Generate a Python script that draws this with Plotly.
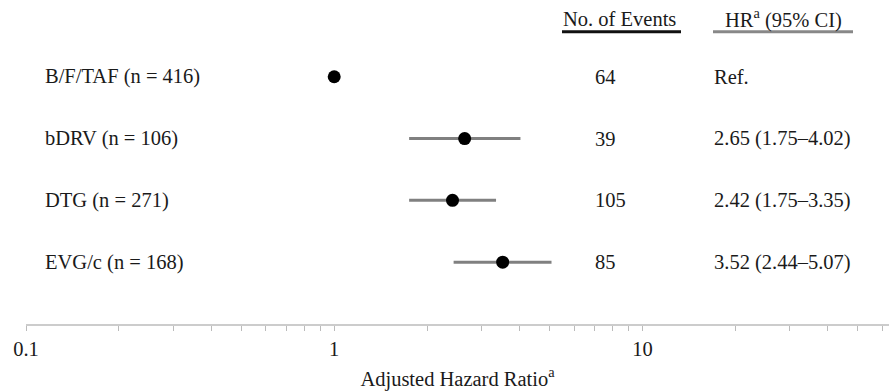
import plotly.graph_objects as go

# ---- data ----
groups = ["B/F/TAF (n = 416)", "bDRV (n = 106)", "DTG (n = 271)", "EVG/c (n = 168)"]
events = ["64", "39", "105", "85"]
hr = [1.0, 2.65, 2.42, 3.52]
ci_lo = [1.0, 1.75, 1.75, 2.44]
ci_hi = [1.0, 4.02, 3.35, 5.07]
hr_text = ["Ref.", "2.65 (1.75–4.02)", "2.42 (1.75–3.35)", "3.52 (2.44–5.07)"]
major_ticks = [0.1, 1, 10]
major_labels = ["0.1", "1", "10"]
minor_ticks = [0.2, 0.3, 0.4, 0.5, 0.6, 0.7, 0.8, 0.9,
               2, 3, 4, 5, 6, 7, 8, 9,
               20, 30, 40, 50, 60]

FONT = "Liberation Serif"
FS = 20.5
TXT = "#1a1a1a"
rows = list(range(len(groups), 0, -1))  # 4,3,2,1 top to bottom

fig = go.Figure()

# reference line at HR = 1
fig.add_shape(type="line", xref="x", yref="y", x0=0, x1=0, y0=0, y1=4.95,
              line=dict(color="#c8c8c8", width=2), layer="below")

fig.add_trace(go.Scatter(
    x=hr, y=rows, mode="markers",
    marker=dict(color="black", size=13),
    error_x=dict(type="data", symmetric=False,
                 array=[h - m for h, m in zip(ci_hi, hr)],
                 arrayminus=[m - l for m, l in zip(hr, ci_lo)],
                 color="#808080", thickness=3, width=0),
    showlegend=False, hoverinfo="skip"))

annotations = []
for g, e, t, r in zip(groups, events, hr_text, rows):
    annotations.append(dict(x=0.0197, xref="paper", y=r, yref="y", text=g,
                            showarrow=False, xanchor="left", yanchor="middle",
                            font=dict(family=FONT, size=FS, color=TXT)))
    annotations.append(dict(x=0.657, xref="paper", y=r, yref="y", text=e,
                            showarrow=False, xanchor="left", yanchor="middle",
                            font=dict(family=FONT, size=FS, color=TXT)))
    annotations.append(dict(x=0.795, xref="paper", y=r, yref="y", text=t,
                            showarrow=False, xanchor="left", yanchor="middle",
                            font=dict(family=FONT, size=FS, color=TXT)))

annotations.append(dict(x=0.688, xref="paper", y=4.935, yref="y", text="No. of Events",
                        showarrow=False, xanchor="center", yanchor="middle",
                        font=dict(family=FONT, size=FS, color=TXT)))
annotations.append(dict(x=0.878, xref="paper", y=4.935, yref="y",
                        text="HR<sup>a</sup> (95% CI)",
                        showarrow=False, xanchor="center", yanchor="middle",
                        font=dict(family=FONT, size=FS, color=TXT)))

fig.add_shape(type="line", xref="paper", yref="y", x0=(562-26)/863, x1=(681-26)/863,
              y0=4.726, y1=4.726, line=dict(color="#111111", width=3))
fig.add_shape(type="line", xref="paper", yref="y", x0=(713-26)/863, x1=(853-26)/863,
              y0=4.726, y1=4.726, line=dict(color="#888888", width=3))

tickvals = major_ticks + minor_ticks
ticktext = major_labels + [""] * len(minor_ticks)

fig.update_layout(
    width=889, height=392,
    margin=dict(l=26, r=0, t=18, b=68),
    paper_bgcolor="white", plot_bgcolor="white",
    annotations=annotations,
    xaxis=dict(type="log", range=[-1, 1.8], showgrid=False, zeroline=False,
               showline=True, linecolor="#cccccc", linewidth=2,
               ticks="outside", ticklen=5, tickcolor="#bbbbbb", tickwidth=1,
               tickvals=tickvals, ticktext=ticktext,
               tickfont=dict(family=FONT, size=FS, color=TXT),
               title=dict(text="Adjusted Hazard Ratio<sup>a</sup>",
                          font=dict(family=FONT, size=FS, color=TXT), standoff=13)),
    yaxis=dict(range=[0, 4.95], visible=False, fixedrange=True),
)

fig.write_html("out.html", config={"displayModeBar": False},
               post_script="document.body.style.margin='0';document.body.style.overflow='hidden';")
